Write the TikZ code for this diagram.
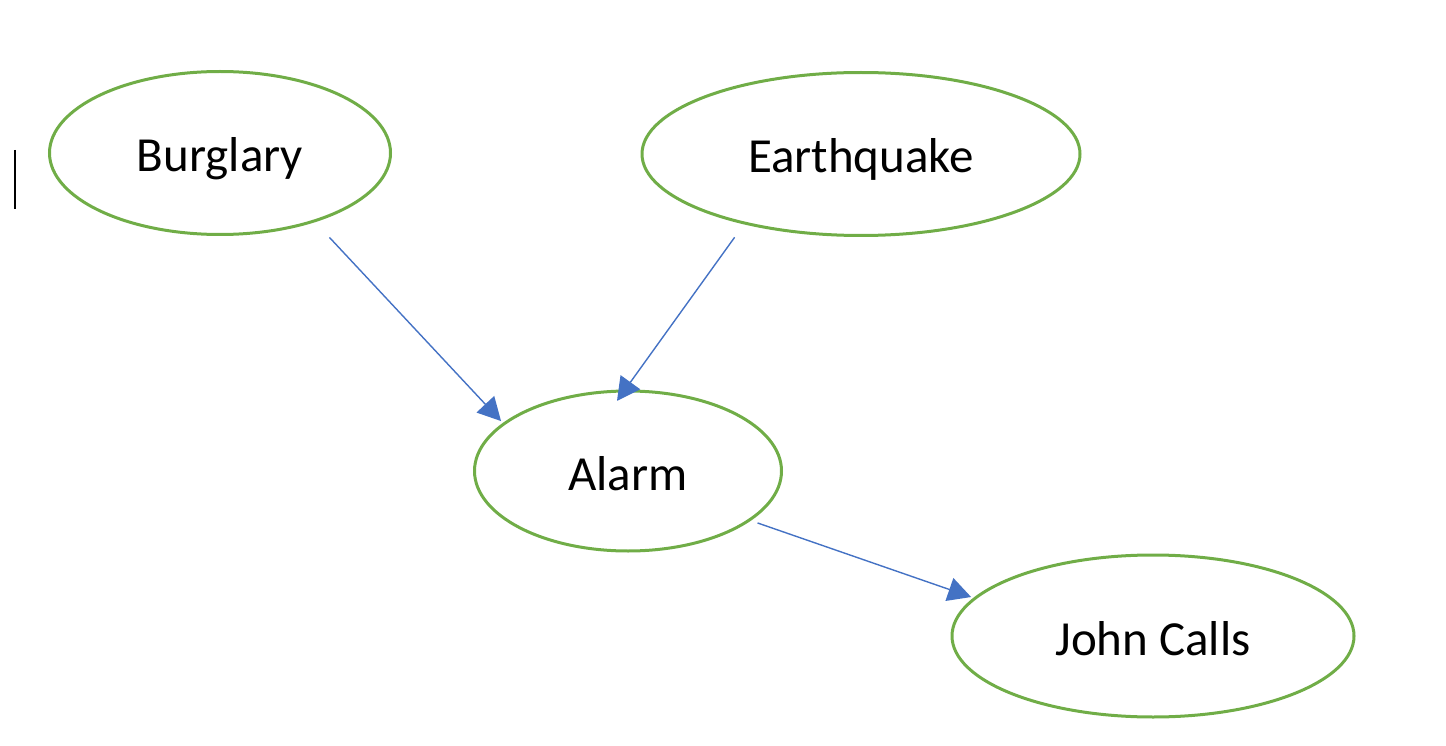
\documentclass[tikz,border=0pt]{standalone}
\usepackage{fontspec}
\setmainfont{Carlito}
\usepackage{xcolor}
\usepackage{tikz}
\usetikzlibrary{arrows.meta,shapes.geometric}

\definecolor{nodegreen}{HTML}{70AD47}
\definecolor{linkblue}{HTML}{4472C4}

\begin{document}
\begin{tikzpicture}[x=1pt,y=-1pt,inner sep=0pt,
  var/.style={ellipse,draw=nodegreen,line width=3pt,text=black,
    font=\fontsize{49}{58}\selectfont,text height=44pt,text depth=6pt},
  link/.style={draw=linkblue,line width=1.4pt,-{Triangle[length=23pt,width=24pt]}}]
\useasboundingbox (0,0) rectangle (1446,746);

\node[var,minimum width=341pt,minimum height=163pt] (B) at (220,153) {Burglary};
\node[var,minimum width=438pt,minimum height=163pt] (E) at (861,154) {Earthquake};
\node[var,minimum width=307pt,minimum height=160pt] (A) at (628,471) {Alarm};
\node[var,minimum width=402pt,minimum height=162pt] (J) at (1153,636) {John Calls};

\draw[line width=1.6pt] (15,150) -- (15,209);

\path (B.-36) edge [link,shorten <=21pt,shorten >=2.6pt] (A.159);
\path (E.-149) edge [link,shorten <=16pt,shorten >=-14pt] (A.92);
\path (A.-22) edge [link,shorten <=7pt,shorten >=2.5pt] (J.168);

\end{tikzpicture}
\end{document}
